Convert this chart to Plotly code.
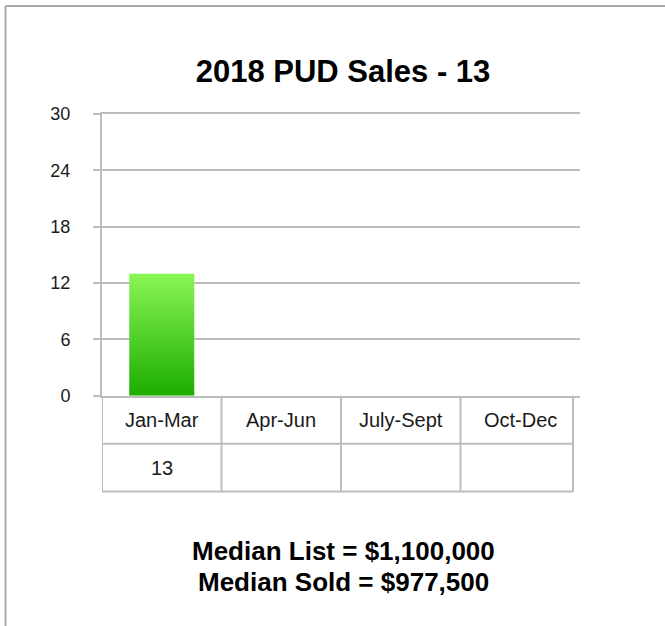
import plotly.graph_objects as go

# data
quarters = ["Jan-Mar", "Apr-Jun", "July-Sept", "Oct-Dec"]
sales = [13, None, None, None]
y_ticks = [0, 6, 12, 18, 24, 30]
title_text = "2018 PUD Sales - 13"
median_lines = ["Median List = $1,100,000", "Median Sold = $977,500"]

FONT = "Liberation Sans, Arial, Helvetica, sans-serif"
GRID = "#bdbdbd"
TEXT = "#1a1a1a"
BAR_W = 0.544

W, H = 665, 626
PLOT_L, PLOT_R, PLOT_T, PLOT_B = 102, 580, 114, 606  # page pixels
plot_w = PLOT_R - PLOT_L
plot_h = PLOT_B - PLOT_T
AXIS_BOTTOM = 397
TABLE_ROWS = [397, 445, 493]
TABLE_RIGHT = 573


def px_x(p):
    return (p - PLOT_L) / plot_w


def px_y(p):
    return (PLOT_B - p) / plot_h


cat_w = plot_w / len(quarters)
table_right_x = -0.5 + (TABLE_RIGHT - PLOT_L) / cat_w

# bar outlines built from the data so they can take a vertical gradient fill
bx, by = [], []
for i, v in enumerate(sales):
    if v is None:
        continue
    x0, x1 = i - BAR_W / 2, i + BAR_W / 2
    bx += [x0, x1, x1, x0, x0, None]
    by += [0, 0, v, v, 0, None]

fig = go.Figure()
fig.add_trace(
    go.Scatter(
        x=bx,
        y=by,
        mode="lines",
        line={"width": 0},
        fill="toself",
        fillgradient={
            "type": "vertical",
            "colorscale": [[0, "#1cad00"], [1, "#8af654"]],
        },
        hoverinfo="skip",
        showlegend=False,
    )
)

fig.update_layout(
    width=W,
    height=H,
    margin={"l": PLOT_L, "r": W - PLOT_R, "t": PLOT_T, "b": H - PLOT_B},
    paper_bgcolor="white",
    plot_bgcolor="white",
    showlegend=False,
    title={
        "text": f"<b>{title_text}</b>",
        "x": 343 / W,
        "xanchor": "center",
        "xref": "container",
        "y": 1 - 71 / H,
        "yanchor": "middle",
        "yref": "container",
        "font": {"family": FONT, "size": 31, "color": "black"},
    },
    xaxis={
        "range": [-0.5, len(quarters) - 0.5],
        "anchor": "y",
        "showticklabels": False,
        "showgrid": False,
        "zeroline": False,
        "showline": True,
        "mirror": True,
        "linecolor": GRID,
        "linewidth": 2,
        "fixedrange": True,
    },
    yaxis={
        "domain": [px_y(AXIS_BOTTOM), 1],
        "range": [0, 30],
        "tickvals": y_ticks,
        "showgrid": True,
        "gridcolor": GRID,
        "gridwidth": 2,
        "zeroline": False,
        "showline": True,
        "linecolor": GRID,
        "linewidth": 2,
        "ticks": "outside",
        "ticklen": 7,
        "tickcolor": GRID,
        "tickwidth": 2,
        "ticklabelstandoff": 19,
        "tickfont": {"family": FONT, "size": 18, "color": TEXT},
        "fixedrange": True,
    },
)

# table under the bars: one column per quarter, header row + value row
line = {"color": GRID, "width": 2}
col_edges = [i - 0.5 for i in range(len(quarters))] + [table_right_x]
for xe in col_edges:
    fig.add_shape(type="line", xref="x", yref="paper", x0=xe, x1=xe,
                  y0=px_y(TABLE_ROWS[-1]), y1=px_y(TABLE_ROWS[0]), line=line)
for yr in TABLE_ROWS[1:]:
    fig.add_shape(type="line", xref="x", yref="paper", x0=-0.5, x1=table_right_x,
                  y0=px_y(yr), y1=px_y(yr), line=line)

row_mid = [(TABLE_ROWS[0] + TABLE_ROWS[1]) / 2, (TABLE_ROWS[1] + TABLE_ROWS[2]) / 2]
for i, (q, v) in enumerate(zip(quarters, sales)):
    for text, ym in [(q, row_mid[0]), ("" if v is None else str(v), row_mid[1])]:
        if not text:
            continue
        fig.add_annotation(
            text=text, xref="x", yref="paper", x=i, y=px_y(ym),
            xanchor="center", yanchor="middle", showarrow=False,
            font={"family": FONT, "size": 20, "color": TEXT},
        )

# outer frame (left and top edges visible in the reference)
fx, fy = px_x(5.5), px_y(5.5)
fig.add_shape(type="line", xref="paper", yref="paper", x0=fx, x1=fx, y0=-0.2, y1=fy,
              line={"color": "#a9a9a9", "width": 2})
fig.add_shape(type="line", xref="paper", yref="paper", x0=fx, x1=1.5, y0=fy, y1=fy,
              line={"color": "#a9a9a9", "width": 2})

for text, ypix in zip(median_lines, [553, 584]):
    fig.add_annotation(
        text=f"<b>{text}</b>",
        xref="paper",
        yref="paper",
        x=px_x(343),
        y=px_y(ypix),
        xanchor="center",
        yanchor="middle",
        showarrow=False,
        font={"family": FONT, "size": 26, "color": "black"},
    )

# drop the default page margin so the figure sits at the window's top-left corner
fig.write_html(
    "out.html",
    config={"displayModeBar": False},
    post_script="document.body.style.margin='0';",
)
